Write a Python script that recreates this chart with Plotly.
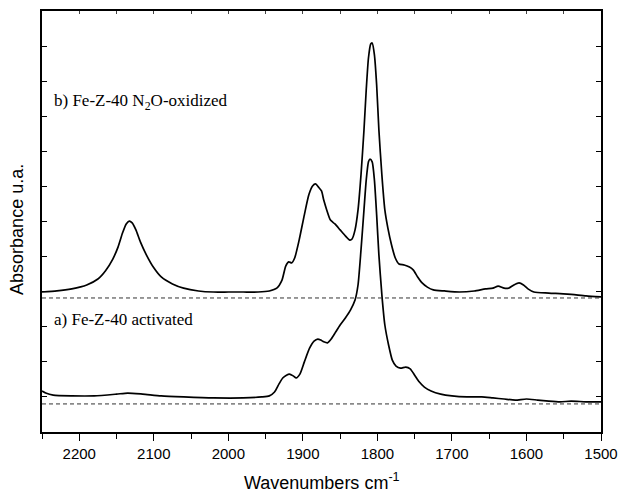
import plotly.graph_objects as go

# Spectrum b) Fe-Z-40 N2O-oxidized (wavenumber, absorbance offset units)
wn_b = [2250, 2230, 2210, 2190, 2175, 2165, 2155, 2148, 2142, 2137, 2133, 2129, 2124, 2118,
        2110, 2100, 2090, 2075, 2060, 2040, 2020, 2000, 1980, 1960, 1945, 1935, 1928, 1923,
        1919, 1915, 1911, 1905, 1898, 1892, 1887, 1883, 1879, 1875, 1872, 1868, 1863, 1857,
        1850, 1843, 1837, 1834, 1830, 1826, 1822, 1818, 1815, 1812, 1809, 1807, 1804, 1801,
        1798, 1794, 1790, 1786, 1781, 1776, 1771, 1764, 1757, 1752, 1746, 1740, 1733, 1725,
        1710, 1690, 1670, 1655, 1645, 1638, 1630, 1624, 1617, 1610, 1604, 1598, 1590, 1570,
        1545, 1520, 1500]
abs_b = [3.99, 4.02, 4.08, 4.19, 4.36, 4.59, 4.93, 5.27, 5.67, 5.93, 6.01, 5.96, 5.76, 5.42,
         5.05, 4.68, 4.42, 4.22, 4.10, 4.02, 3.99, 3.99, 3.99, 3.99, 4.02, 4.10, 4.33, 4.73,
         4.85, 4.82, 4.96, 5.47, 6.19, 6.76, 7.01, 7.07, 6.98, 6.87, 6.61, 6.33, 6.04, 5.93,
         5.76, 5.59, 5.47, 5.50, 5.76, 6.33, 7.33, 8.61, 9.75, 10.66, 11.06, 11.09, 10.75, 9.89,
         8.61, 7.33, 6.33, 5.82, 5.33, 4.96, 4.79, 4.76, 4.70, 4.62, 4.42, 4.25, 4.13, 4.05,
         4.02, 3.99, 4.02, 4.08, 4.10, 4.16, 4.10, 4.10, 4.19, 4.25, 4.19, 4.08, 3.99, 3.96,
         3.93, 3.88, 3.85]

# Spectrum a) Fe-Z-40 activated
wn_a = [2250, 2245, 2235, 2210, 2180, 2150, 2135, 2115, 2090, 2060, 2020, 1980, 1955, 1945,
        1938, 1932, 1927, 1922, 1918, 1913, 1909, 1904, 1898, 1891, 1885, 1880, 1876, 1872,
        1867, 1862, 1856, 1850, 1843, 1836, 1830, 1826, 1822, 1818, 1815, 1812, 1810, 1807,
        1804, 1801, 1798, 1794, 1790, 1785, 1780, 1775, 1769, 1762, 1756, 1750, 1744, 1737,
        1728, 1715, 1700, 1680, 1660, 1645, 1630, 1615, 1600, 1585, 1570, 1555, 1540, 1520, 1500]
abs_a = [1.17, 1.11, 1.05, 1.03, 1.03, 1.08, 1.11, 1.08, 1.03, 1.00, 0.97, 0.97, 1.00, 1.03,
         1.14, 1.37, 1.54, 1.62, 1.65, 1.60, 1.54, 1.65, 2.00, 2.39, 2.59, 2.65, 2.62, 2.57,
         2.54, 2.65, 2.85, 3.05, 3.25, 3.48, 3.76, 4.19, 5.19, 6.33, 7.18, 7.70, 7.78, 7.70,
         7.18, 6.19, 5.05, 3.91, 3.05, 2.48, 2.05, 1.88, 1.82, 1.85, 1.80, 1.62, 1.43, 1.28,
         1.17, 1.08, 1.03, 1.00, 1.00, 0.97, 0.94, 0.91, 0.94, 0.91, 0.88, 0.86, 0.88, 0.86, 0.86]

baseline_b = 3.82
baseline_a = 0.80
x_range = [2250, 1500]
y_range = [0, 12]

label_b = "b) Fe-Z-40 N<sub>2</sub>O-oxidized"
label_a = "a) Fe-Z-40 activated"
x_title = "Wavenumbers cm<sup>-1</sup>"
y_title = "Absorbance u.a."

fig = go.Figure()
for base in [baseline_b, baseline_a]:
    fig.add_trace(go.Scatter(x=x_range, y=[base, base], mode="lines", xaxis="x2",
                             line=dict(color="#333333", width=1, dash="4px,3px"),
                             showlegend=False, hoverinfo="skip"))
fig.add_trace(go.Scatter(x=wn_b, y=abs_b, mode="lines",
                         line=dict(color="black", width=1.7, shape="spline", smoothing=0.6),
                         showlegend=False))
fig.add_trace(go.Scatter(x=wn_a, y=abs_a, mode="lines",
                         line=dict(color="black", width=1.7, shape="spline", smoothing=0.6),
                         showlegend=False))

fig.update_layout(
    width=620, height=494, autosize=False,
    margin=dict(l=42, r=19, t=11, b=62, autoexpand=False),
    paper_bgcolor="white", plot_bgcolor="white",
    font=dict(family="Liberation Sans, Arial", size=15, color="black"),
    xaxis=dict(range=x_range, showline=True, linecolor="black", linewidth=1.5,
               ticks="outside", ticklen=7, tickwidth=1.2, tickcolor="black",
               dtick=100, tick0=1500, showgrid=False, zeroline=False, automargin=False,
               tickfont=dict(size=15, family="Liberation Sans, Arial"),
               minor=dict(dtick=50, tick0=1500, ticks="outside", ticklen=5,
                          tickwidth=1.2, tickcolor="black", showgrid=False)),
    xaxis2=dict(range=x_range, overlaying="x", side="top", showline=True,
                linecolor="black", linewidth=1.5, ticks="inside", ticklen=3,
                tickwidth=1, tickcolor="#444", dtick=50, tick0=1500, automargin=False,
                showticklabels=False, showgrid=False, zeroline=False),
    yaxis=dict(range=y_range, showline=True, linecolor="black", linewidth=1.5,
               mirror="ticks", ticks="inside", ticklen=5, tickwidth=1.2,
               tickcolor="black", dtick=1, tick0=0, showticklabels=False,
               showgrid=False, zeroline=False, automargin=False),
    annotations=[
        dict(text=label_b, x=2236, y=9.42, xref="x", yref="y", xanchor="left",
             yanchor="middle", showarrow=False,
             font=dict(family="Liberation Serif, Times New Roman", size=17, color="black")),
        dict(text=label_a, x=2236, y=3.22, xref="x", yref="y", xanchor="left",
             yanchor="middle", showarrow=False,
             font=dict(family="Liberation Serif, Times New Roman", size=17, color="black")),
        dict(text=x_title, x=0.5, y=-0.117, xref="paper", yref="paper",
             xanchor="center", yanchor="middle", showarrow=False,
             font=dict(family="Liberation Sans, Arial", size=18, color="black")),
        dict(text=y_title, x=-0.045, y=0.482, xref="paper", yref="paper",
             xanchor="center", yanchor="middle", textangle=-90, showarrow=False,
             font=dict(family="Liberation Sans, Arial", size=18, color="black")),
    ],
)

fig.write_html("out.html")
